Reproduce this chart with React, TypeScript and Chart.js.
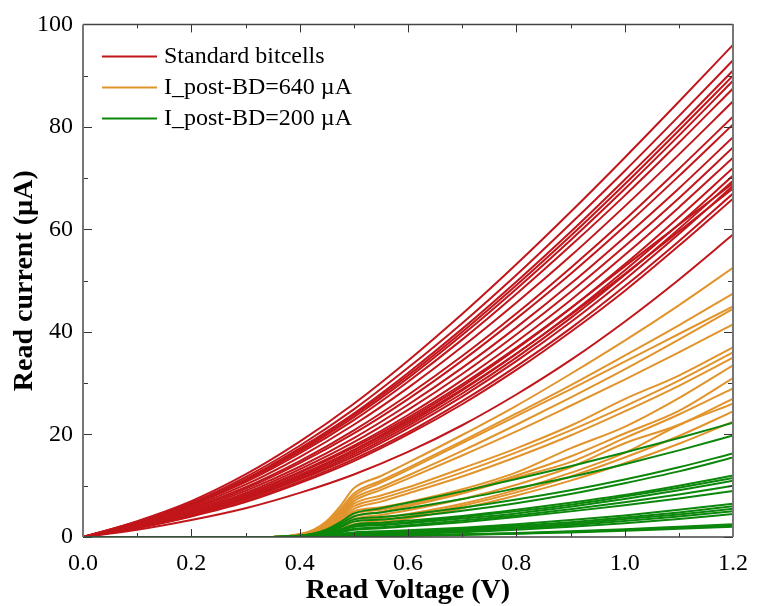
import React, { useEffect, useRef } from "react";
import { Chart, registerables } from "chart.js";

Chart.register(...registerables);

// Read voltage sample points (V)
const voltageStd = [0, 0.1, 0.2, 0.3, 0.4, 0.5, 0.6, 0.7, 0.8, 0.9, 1.0, 1.1, 1.2];
const voltageBD = [0, 0.35, 0.4, 0.425, 0.45, 0.475, 0.5, 0.55, 0.6, 0.7, 0.8, 0.9, 1.0, 1.1, 1.2];

// Standard bitcells, read current (µA)
const standardBitcells = [
  [0, 3.1, 7.0, 12.2, 18.6, 26.0, 34.4, 43.5, 53.2, 63.4, 74.0, 84.9, 96],
  [0, 3.0, 6.7, 11.7, 17.8, 24.9, 33.0, 41.7, 51.1, 61.1, 71.4, 82.1, 93],
  [0, 2.9, 6.5, 11.3, 17.3, 24.1, 32.0, 40.6, 49.8, 59.5, 69.7, 80.2, 91],
  [0, 2.8, 6.4, 11.1, 17.0, 23.8, 31.5, 40.0, 49.1, 58.7, 68.8, 79.3, 90],
  [0, 2.8, 6.3, 11.0, 16.7, 23.4, 31.0, 39.4, 48.4, 57.9, 67.9, 78.3, 89],
  [0, 2.7, 6.2, 10.7, 16.3, 22.8, 30.3, 38.5, 47.4, 56.8, 66.6, 76.9, 87.5],
  [0, 2.6, 5.9, 10.2, 15.6, 21.9, 29.1, 37.1, 45.7, 54.8, 64.5, 74.6, 85],
  [0, 2.5, 5.6, 9.7, 14.8, 20.8, 27.7, 35.3, 43.6, 52.5, 61.9, 71.8, 82],
  [0, 2.4, 5.5, 9.4, 14.4, 20.2, 26.9, 34.4, 42.6, 51.3, 60.6, 70.4, 80.5],
  [0, 2.3, 5.2, 9.0, 13.7, 19.3, 25.8, 33.0, 40.9, 49.4, 58.5, 68.0, 78],
  [0, 2.2, 5.0, 8.6, 13.2, 18.5, 24.8, 31.8, 39.5, 47.8, 56.7, 66.1, 76],
  [0, 2.1, 4.8, 8.3, 12.7, 17.8, 23.8, 30.6, 38.1, 46.2, 55.0, 64.3, 74],
  [0, 2.0, 4.6, 7.9, 12.1, 17.0, 22.9, 29.4, 36.7, 44.6, 53.2, 62.4, 72],
  [0, 1.9, 4.5, 7.7, 11.7, 16.5, 22.1, 28.6, 35.7, 43.5, 52.0, 61.0, 70.5],
  [0, 1.9, 4.4, 7.5, 11.4, 16.1, 21.7, 28.0, 35.0, 42.7, 51.1, 60.1, 69.5],
  [0, 2.1, 4.8, 8.2, 12.5, 17.5, 23.3, 29.8, 36.9, 44.6, 52.8, 60.9, 69],
  [0, 1.8, 4.3, 7.3, 11.2, 15.7, 21.2, 27.4, 34.3, 41.9, 50.2, 59.1, 68.5],
  [0, 2.0, 4.6, 7.9, 12.0, 16.9, 22.5, 28.8, 35.8, 43.3, 51.3, 59.6, 68],
  [0, 1.8, 4.1, 7.0, 10.8, 15.2, 20.4, 26.5, 33.3, 40.7, 48.9, 57.7, 67],
  [0, 1.7, 4.0, 6.8, 10.5, 14.8, 20.0, 25.9, 32.6, 40.0, 48.0, 56.8, 66],
  [0, 1.4, 3.3, 5.6, 8.6, 12.2, 16.6, 21.8, 27.8, 34.5, 42.0, 50.2, 59],
];

// I_post-BD = 640 µA, read current (µA)
const postBD640 = [
  [0, 0, 0.6, 1.4, 3.1, 6.0, 9.5, 11.9, 14.5, 19.9, 25.6, 31.8, 38.3, 45.2, 52.5],
  [0, 0, 0.5, 1.3, 2.8, 5.4, 8.5, 11.0, 13.5, 18.7, 24.1, 29.6, 35.4, 41.3, 47.5],
  [0, 0, 0.5, 1.2, 2.6, 5.0, 8.0, 10.6, 13.1, 18.3, 23.6, 28.8, 34.2, 39.6, 45],
  [0, 0, 0.45, 1.1, 2.5, 4.7, 7.5, 9.7, 12.0, 16.8, 21.9, 27.2, 32.7, 38.5, 44.5],
  [0, 0, 0.4, 1.05, 2.3, 4.4, 7.0, 9.2, 11.4, 15.9, 20.6, 25.6, 30.7, 36.0, 41.5],
  [0, 0, 0.4, 1.0, 2.15, 4.1, 6.5, 8.1, 9.7, 13.4, 17.3, 21.7, 26.9, 31.5, 37],
  [0, 0, 0.35, 0.9, 2.0, 3.8, 6.0, 7.5, 9.1, 12.6, 16.5, 20.8, 25.5, 30.5, 36],
  [0, 0, 0.33, 0.83, 1.8, 3.5, 5.5, 6.9, 8.5, 11.8, 15.6, 19.8, 24.5, 29.5, 35],
  [0, 0, 0.3, 0.75, 1.65, 3.15, 5.0, 5.8, 6.8, 9.3, 12.6, 17.3, 21.5, 27.1, 33.5],
  [0, 0, 0.27, 0.68, 1.5, 2.8, 4.5, 5.3, 6.3, 8.8, 12.0, 15.7, 20.2, 24.6, 31],
  [0, 0, 0.24, 0.6, 1.3, 2.5, 4.0, 4.9, 6.0, 8.5, 11.6, 14.6, 19.3, 23.9, 29],
  [0, 0, 0.2, 0.53, 1.16, 2.2, 3.5, 4.3, 5.2, 7.4, 10.2, 13.6, 18.3, 21.9, 27],
  [0, 0, 0.18, 0.45, 1.0, 1.9, 3.0, 3.7, 4.5, 6.5, 9.2, 12.5, 16.4, 21.8, 26],
  [0, 0, 0.15, 0.38, 0.83, 1.6, 2.5, 3.2, 4.0, 6.1, 8.7, 11.8, 15.5, 19.7, 24.5],
  [0, 0, 0.12, 0.3, 0.66, 1.26, 2.0, 2.8, 3.6, 5.6, 8.1, 11.0, 14.4, 18.2, 22.5],
];

// I_post-BD = 200 µA, read current (µA)
const postBD200 = [
  [0, 0, 0.28, 0.7, 1.5, 2.9, 4.6, 5.6, 6.7, 8.9, 11.3, 13.8, 16.5, 19.3, 22.3],
  [0, 0, 0.24, 0.6, 1.3, 2.5, 4.0, 4.8, 5.6, 7.4, 9.5, 11.7, 14.2, 16.9, 19.8],
  [0, 0, 0.2, 0.5, 1.1, 2.1, 3.4, 3.9, 4.4, 5.7, 7.3, 9.1, 11.2, 13.6, 16.3],
  [0, 0, 0.18, 0.45, 1.0, 1.9, 3.0, 3.4, 3.9, 5.1, 6.6, 8.4, 10.5, 12.8, 15.5],
  [0, 0, 0.14, 0.36, 0.8, 1.5, 2.4, 2.8, 3.2, 4.1, 5.3, 6.7, 8.2, 10.0, 12],
  [0, 0, 0.13, 0.33, 0.73, 1.4, 2.2, 2.5, 2.9, 3.9, 5.0, 6.3, 7.9, 9.6, 11.5],
  [0, 0, 0.12, 0.3, 0.66, 1.26, 2.0, 2.3, 2.7, 3.6, 4.6, 5.9, 7.4, 9.1, 11],
  [0, 0, 0.1, 0.24, 0.53, 1.0, 1.6, 1.9, 2.3, 3.2, 4.2, 5.4, 6.8, 8.3, 10],
  [0, 0, 0.08, 0.21, 0.46, 0.88, 1.4, 1.7, 2.1, 2.9, 3.9, 5.0, 6.2, 7.5, 9],
  [0, 0, 0.05, 0.14, 0.3, 0.57, 0.9, 1.1, 1.3, 1.8, 2.5, 3.3, 4.2, 5.3, 6.5],
  [0, 0, 0.05, 0.12, 0.26, 0.5, 0.8, 0.95, 1.1, 1.6, 2.2, 2.9, 3.8, 4.8, 6],
  [0, 0, 0.04, 0.09, 0.2, 0.38, 0.6, 0.75, 0.9, 1.4, 1.9, 2.6, 3.5, 4.4, 5.5],
  [0, 0, 0.03, 0.08, 0.17, 0.32, 0.5, 0.6, 0.76, 1.15, 1.7, 2.3, 3.1, 4.0, 5],
  [0, 0, 0.02, 0.06, 0.13, 0.25, 0.4, 0.5, 0.6, 0.95, 1.4, 2.0, 2.7, 3.5, 4.5],
  [0, 0, 0.01, 0.03, 0.07, 0.13, 0.2, 0.26, 0.32, 0.52, 0.78, 1.1, 1.5, 2.0, 2.5],
  [0, 0, 0.01, 0.02, 0.05, 0.09, 0.15, 0.21, 0.28, 0.47, 0.7, 1.0, 1.35, 1.75, 2.2],
  [0, 0, 0.01, 0.02, 0.03, 0.06, 0.1, 0.16, 0.22, 0.4, 0.61, 0.9, 1.2, 1.6, 2.0],
];

const seriesLabels = ["Standard bitcells", "I_post-BD=640 \u00b5A", "I_post-BD=200 \u00b5A"];
const seriesColors = ["#c1161b", "#e2942c", "#0b870b"];

const xTitle = "Read Voltage (V)";
const yTitle = "Read current (\u00b5A)";
const xMin = 0, xMax = 1.2, xMajorStep = 0.2, xMinorStep = 0.1;
const yMin = 0, yMax = 100, yMajorStep = 20, yMinorStep = 10;

const SERIF = '"Liberation Serif", "Times New Roman", serif';

function toPoints(xs: number[], ys: number[]) {
  return ys.map((y, i) => ({ x: xs[i], y }));
}

const framePlugin = {
  id: "frameTicksLegend",
  afterDraw(chart: any) {
    const { ctx, chartArea, scales } = chart;
    const { left, right, top, bottom } = chartArea;
    const xs = scales.x;
    const ys = scales.y;
    ctx.save();
    ctx.strokeStyle = "#333";
    ctx.lineWidth = 1;
    const nx = Math.round((xMax - xMin) / xMinorStep);
    for (let i = 0; i <= nx; i++) {
      const v = xMin + i * xMinorStep;
      const major = i % Math.round(xMajorStep / xMinorStep) === 0;
      const len = major ? 8 : 4;
      const px = Math.round(xs.getPixelForValue(v)) + 0.5;
      ctx.beginPath();
      ctx.moveTo(px, bottom);
      ctx.lineTo(px, bottom - len);
      ctx.moveTo(px, top);
      ctx.lineTo(px, top + len);
      ctx.stroke();
    }
    const ny = Math.round((yMax - yMin) / yMinorStep);
    for (let i = 0; i <= ny; i++) {
      const v = yMin + i * yMinorStep;
      const major = i % Math.round(yMajorStep / yMinorStep) === 0;
      const len = major ? 9 : 5;
      const py = Math.round(ys.getPixelForValue(v)) + 0.5;
      ctx.beginPath();
      ctx.moveTo(left, py);
      ctx.lineTo(left + len, py);
      ctx.moveTo(right, py);
      ctx.lineTo(right - len, py);
      ctx.stroke();
    }
    // frame
    ctx.lineWidth = 1.5;
    ctx.strokeStyle = "#444";
    ctx.beginPath();
    ctx.moveTo(left, top);
    ctx.lineTo(right, top);
    ctx.moveTo(left, bottom);
    ctx.lineTo(right, bottom);
    ctx.stroke();
    ctx.lineWidth = 2;
    ctx.strokeStyle = "#777";
    ctx.beginPath();
    ctx.moveTo(left, top);
    ctx.lineTo(left, bottom);
    ctx.moveTo(right, top);
    ctx.lineTo(right, bottom);
    ctx.stroke();
    // legend
    ctx.font = `24px ${SERIF}`;
    ctx.textBaseline = "middle";
    ctx.textAlign = "left";
    seriesLabels.forEach((label, i) => {
      const y = top + 32 + i * 31;
      ctx.strokeStyle = seriesColors[i];
      ctx.lineWidth = 2;
      ctx.beginPath();
      ctx.moveTo(left + 19, y);
      ctx.lineTo(left + 74, y);
      ctx.stroke();
      ctx.fillStyle = "#000";
      ctx.fillText(label, left + 81, y);
    });
    ctx.restore();
  },
};

export default function App() {
  const ref = useRef<HTMLCanvasElement | null>(null);
  useEffect(() => {
    if (!ref.current) return;
    const datasets: any[] = [];
    postBD200.forEach((c, i) =>
      datasets.push({ label: seriesLabels[2] + i, data: toPoints(voltageBD, c), borderColor: seriesColors[2] })
    );
    postBD640.forEach((c, i) =>
      datasets.push({ label: seriesLabels[1] + i, data: toPoints(voltageBD, c), borderColor: seriesColors[1] })
    );
    standardBitcells.forEach((c, i) =>
      datasets.push({ label: seriesLabels[0] + i, data: toPoints(voltageStd, c), borderColor: seriesColors[0] })
    );
    const chart = new Chart(ref.current, {
      type: "line",
      data: { datasets },
      options: {
        responsive: false,
        animation: false,
        layout: { padding: { left: 0, top: 21, right: 18, bottom: 0 } },
        plugins: { legend: { display: false }, tooltip: { enabled: false } },
        elements: {
          point: { radius: 0 },
          line: { borderWidth: 2, cubicInterpolationMode: "monotone", fill: false },
        },
        scales: {
          x: {
            type: "linear",
            min: xMin,
            max: xMax,
            grid: { display: false, drawTicks: false },
            border: { display: false },
            ticks: {
              stepSize: xMajorStep,
              callback: (v: any) => Number(v).toFixed(1),
              font: { family: SERIF, size: 24 },
              color: "#000",
              padding: 12,
              maxRotation: 0,
              autoSkip: false,
            },
            title: {
              display: true,
              text: xTitle,
              font: { family: SERIF, size: 28, weight: "bold" },
              color: "#000",
              padding: { top: 0, bottom: -2 },
            },
            afterFit: (s: any) => {
              s.height = 69;
            },
          },
          y: {
            type: "linear",
            min: yMin,
            max: yMax,
            grid: { display: false, drawTicks: false },
            border: { display: false },
            ticks: {
              stepSize: yMajorStep,
              font: { family: SERIF, size: 24 },
              color: "#000",
              padding: 10,
            },
            title: {
              display: true,
              text: yTitle,
              font: { family: SERIF, size: 28, weight: "bold" },
              color: "#000",
              padding: { top: 8, bottom: 0 },
            },
            afterFit: (s: any) => {
              s.width = 83;
            },
          },
        },
      },
      plugins: [framePlugin],
    } as any);
    return () => chart.destroy();
  }, []);
  return (
    <div style={{ position: "absolute", left: 0, top: 0, width: 760, height: 606, background: "#fff" }}>
      <canvas ref={ref} width={760} height={606} style={{ display: "block" }} />
    </div>
  );
}
